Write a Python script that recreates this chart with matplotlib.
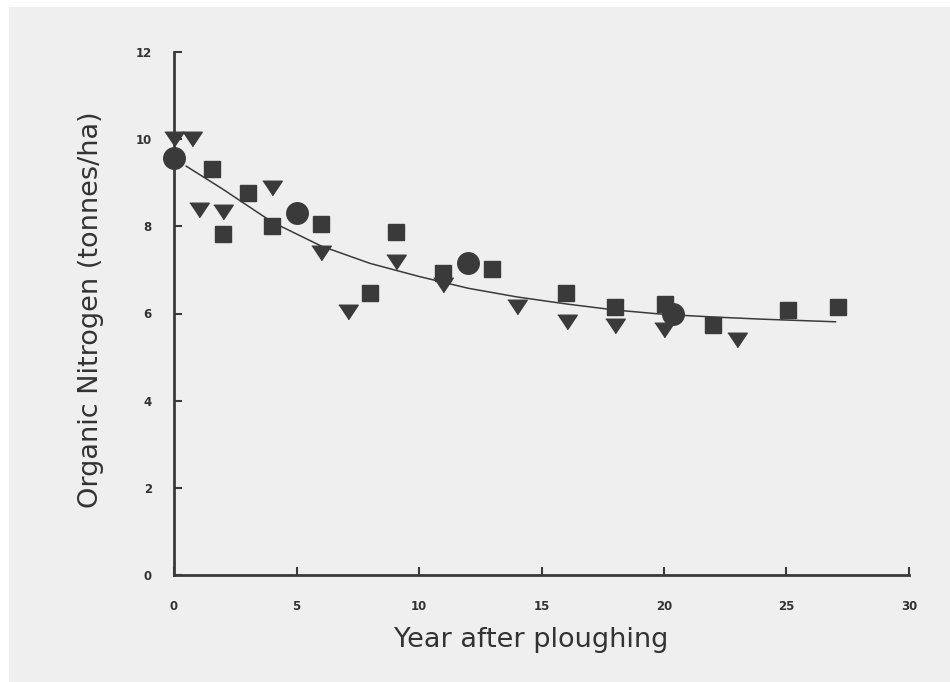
import matplotlib
matplotlib.use("Agg")
import matplotlib.pyplot as plt
from matplotlib.patches import Rectangle

# Squares
sq_year = [1.55, 2.0, 3.0, 4.0, 6.0, 8.0, 9.05, 11.0, 13.0, 16.0, 18.0, 20.05, 22.0, 25.05, 27.1]
sq_n = [9.31, 7.82, 8.76, 8.0, 8.05, 6.47, 7.87, 6.93, 7.02, 6.47, 6.15, 6.22, 5.73, 6.08, 6.15]

# Down triangles
tri_year = [0.0, 0.75, 1.0, 2.0, 4.0, 6.0, 7.1, 9.05, 11.0, 14.0, 16.05, 18.0, 20.0, 23.0]
tri_n = [10.0, 10.0, 8.37, 8.33, 8.88, 7.39, 6.03, 7.18, 6.65, 6.15, 5.80, 5.71, 5.62, 5.39]

# Circles
circ_year = [0.0, 5.0, 12.0, 20.35]
circ_n = [9.56, 8.30, 7.16, 5.98]

# Fitted curve
fit_year = [0.5, 2, 4, 6, 8, 10, 12, 14, 16, 18, 20, 22, 24, 26, 27]
fit_n = [9.38, 8.85, 8.10, 7.55, 7.15, 6.85, 6.58, 6.38, 6.22, 6.08, 5.98, 5.92, 5.87, 5.83, 5.81]

ink = "#3a3a3a"
bg = "#efefef"
flat_tri = [(-1, 0.75), (1, 0.75), (0, -0.75)]

plt.rcParams["font.family"] = ["DejaVu Sans"]

fig = plt.figure(figsize=(9.5, 6.82), dpi=100)
fig.patch.set_facecolor("white")
fig.add_artist(Rectangle((9 / 950, 0), 1, 1 - 7 / 682, transform=fig.transFigure,
                         facecolor=bg, edgecolor="none", zorder=-10))

ax = fig.add_axes([174 / 950, 1 - 575 / 682, (909 - 174) / 950, (575 - 52) / 682])
ax.set_facecolor("none")

ax.plot(fit_year, fit_n, color=ink, linewidth=1.1, zorder=2)
ax.plot(sq_year, sq_n, linestyle="none", marker="s", markersize=11.5, color=ink,
        zorder=3, clip_on=False)
ax.plot(tri_year, tri_n, linestyle="none", marker=flat_tri, markersize=14, color=ink,
        zorder=3, clip_on=False)
ax.plot(circ_year, circ_n, linestyle="none", marker="o", markersize=15.5, color=ink,
        zorder=3, clip_on=False)

ax.set_xlim(0, 30)
ax.set_ylim(0, 12)
for side in ("top", "right"):
    ax.spines[side].set_visible(False)
for side in ("left", "bottom"):
    ax.spines[side].set_color(ink)
    ax.spines[side].set_linewidth(2)
    ax.spines[side].set_capstyle("projecting")

ax.set_xticks([0, 5, 10, 15, 20, 25, 30])
ax.set_yticks([0, 2, 4, 6, 8, 10, 12])
ax.tick_params(axis="both", direction="in", color=ink, width=1.5, length=6,
               labelsize=8.5, labelcolor="#333333")
ax.tick_params(axis="x", pad=18)
ax.tick_params(axis="y", pad=16)
for lab in ax.get_xticklabels() + ax.get_yticklabels():
    lab.set_fontweight("bold")

ax.set_xlabel("Year after ploughing", fontsize=19.5, color="#333333")
ax.set_ylabel("Organic Nitrogen (tonnes/ha)", fontsize=19.5, color="#333333")
ax.xaxis.set_label_coords(0.486, -0.099)
ax.yaxis.set_label_coords(-0.095, 0.507)

fig.savefig("out.png", dpi=100, facecolor=fig.get_facecolor())
